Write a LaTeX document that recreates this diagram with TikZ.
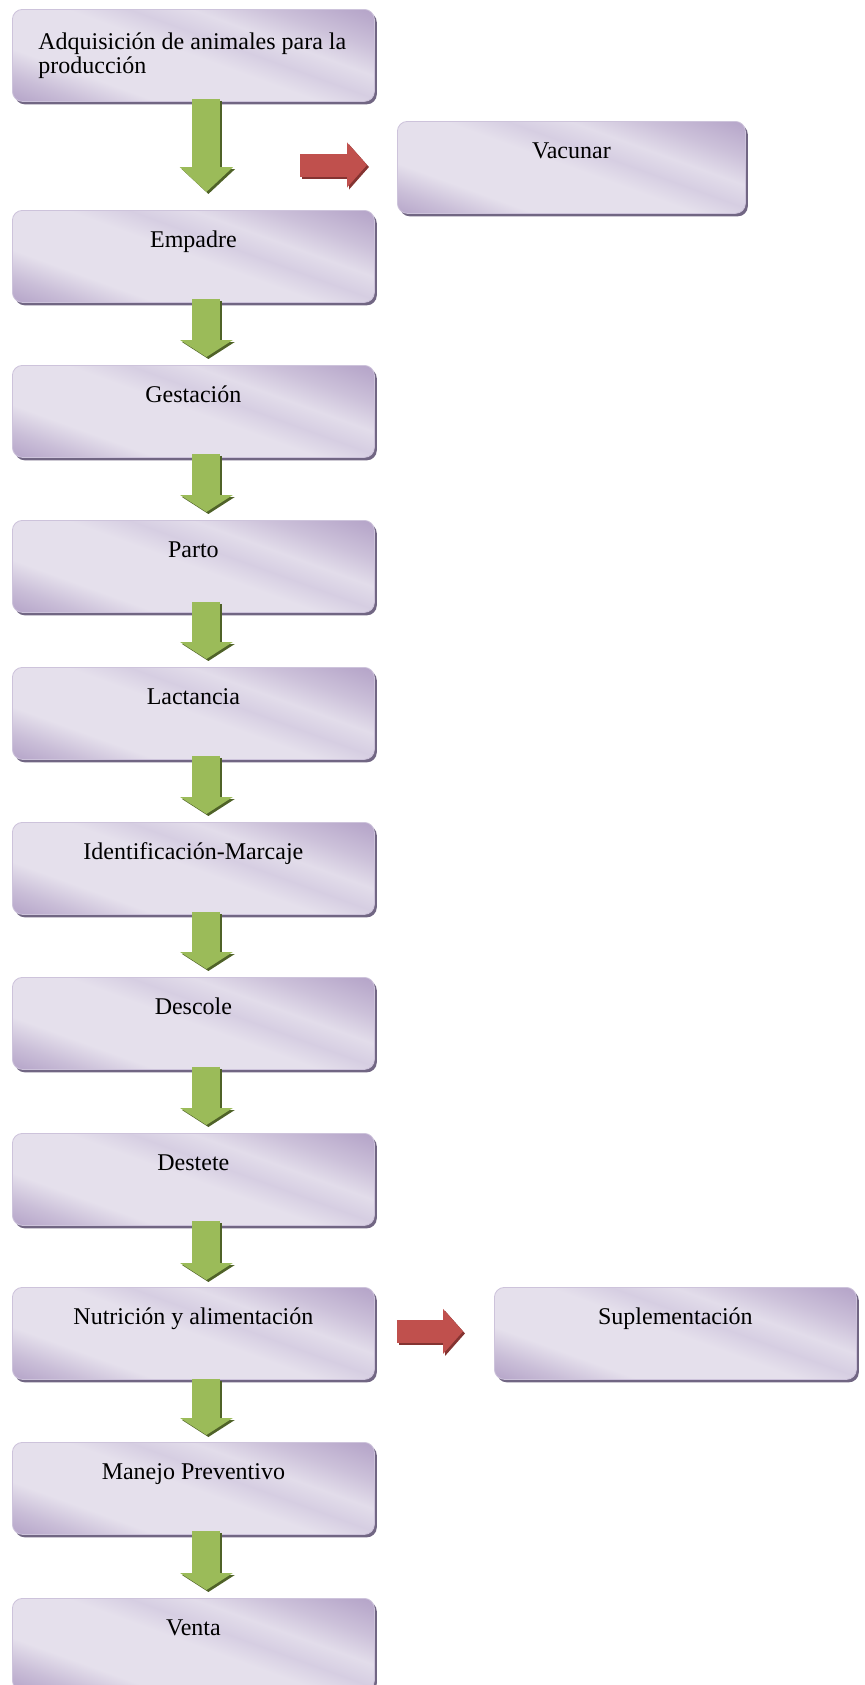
\documentclass[tikz,border=0pt]{standalone}
\usepackage{fontspec}
\setmainfont{Liberation Serif}
\usetikzlibrary{arrows.meta,shadows}

\definecolor{stagedark}{HTML}{B3A2C7}
\definecolor{stagemid}{HTML}{D6CEE2}
\definecolor{stagelight}{HTML}{E5E0EC}
\definecolor{stagerim}{HTML}{CDC3DB}
\definecolor{stageedge}{HTML}{716683}
\definecolor{stepgreen}{HTML}{9BBB59}
\definecolor{stepgreendark}{HTML}{4F6228}
\definecolor{branchred}{HTML}{C0504D}
\definecolor{branchreddark}{HTML}{843331}

\pgfdeclareverticalshading{stageshade}{100bp}{color(0bp)=(stagedark); color(25bp)=(stagedark);
  color(31bp)=(stagedark!55!stagelight); color(37bp)=(stagelight); color(50bp)=(stagelight);
  color(55bp)=(stagemid); color(60bp)=(stagelight!80!stagemid); color(66bp)=(stagedark!50!stagelight);
  color(72bp)=(stagedark!85!stagelight); color(75bp)=(stagedark); color(100bp)=(stagedark)}

\begin{document}
\begin{tikzpicture}
  [x=0.75pt,y=-0.75pt,
   stage/.style={rectangle,rounded corners=7.5pt,anchor=north west,inner sep=0pt,
     minimum width=271.5pt,minimum height=69pt,text height=27.75pt,text depth=41.25pt,
     draw=stagerim,line width=0.6pt,
     path picture={\shade[shading=stageshade,transform canvas={rotate around={-20:(path picture bounding box.center)}}]
       ([shift={(-160pt,-80pt)}]path picture bounding box.center) rectangle ([shift={(160pt,80pt)}]path picture bounding box.center);},
     general shadow={fill=stageedge,shadow xshift=1.8pt,shadow yshift=-2.2pt},
     font=\fontsize{18pt}{18pt}\selectfont}]
  \tikzstyle{garrow} = [line width=21pt,draw=stepgreen,-{Triangle[width=39pt,length=12.75pt]}]
  \tikzstyle{gshade} = [garrow,draw=stepgreendark,transform canvas={shift={(1.5pt,-1.5pt)}}]
  \tikzstyle{rarrow} = [line width=17.25pt,draw=branchred,-{Triangle[width=33pt,length=15pt]}]
  \tikzstyle{rshade} = [rarrow,draw=branchreddark,transform canvas={shift={(1.5pt,-1.5pt)}}]
  \useasboundingbox (0,0) rectangle (864,1685);

  \node[stage,text height=30pt,text depth=39pt] (b1) at (12,9)
    {\parbox[t]{252pt}{\raggedright\leftskip=9.75pt\relax Adquisición de animales para la\\producción}};
  \node[stage] (b2) at (12,210) {Empadre};
  \node[stage] (b3) at (12,365) {Gestación};
  \node[stage] (b4) at (12,520) {Parto};
  \node[stage] (b5) at (12,667) {Lactancia};
  \node[stage] (b6) at (12,822) {Identificación-Marcaje};
  \node[stage] (b7) at (12,977) {Descole};
  \node[stage] (b8) at (12,1133) {Destete};
  \node[stage] (b9) at (12,1287) {Nutrición y alimentación};
  \node[stage] (b10) at (12,1442) {Manejo Preventivo};
  \node[stage] (b11) at (12,1598) {Venta};
  \node[stage,minimum width=261pt] (vac) at (397,121) {Vacunar};
  \node[stage] (sup) at (494,1287) {Suplementación};

  % green steps down the column
  \draw[gshade,-{Triangle[width=39pt,length=18.75pt]}] ([xshift=9.75pt,yshift=2.25pt]b1.south) -- ([xshift=9.75pt,yshift=13.5pt]b2.north);
  \draw[garrow,-{Triangle[width=39pt,length=18.75pt]}] ([xshift=9.75pt,yshift=2.25pt]b1.south) -- ([xshift=9.75pt,yshift=13.5pt]b2.north);
\foreach \a/\b/\over/\gap in {b2/b3/3pt/6pt,b3/b4/3pt/6pt,b4/b5/8.25pt/6pt,b5/b6/3pt/6pt,b6/b7/2.25pt/6pt,
    b7/b8/2.25pt/6pt,b8/b9/3.75pt/5.25pt,b9/b10/0.75pt/5.25pt,b10/b11/3pt/6pt} {
   \draw[gshade] ([xshift=9.75pt,yshift=\over]\a.south) -- ([xshift=9.75pt,yshift=\gap]\b.north);
   \draw[garrow] ([xshift=9.75pt,yshift=\over]\a.south) -- ([xshift=9.75pt,yshift=\gap]\b.north);
}

  % red branches
  \coordinate (c1) at (300,165);
  \draw[rshade,shorten >=22.5pt] (c1) -- (c1 -| vac.west);
  \draw[rarrow,shorten >=22.5pt] (c1) -- (c1 -| vac.west);
  \draw[rshade,shorten <=16.5pt,shorten >=23.25pt] ([yshift=1.5pt]b9.east) -- ([yshift=1.5pt]sup.west);
  \draw[rarrow,shorten <=16.5pt,shorten >=23.25pt] ([yshift=1.5pt]b9.east) -- ([yshift=1.5pt]sup.west);
\end{tikzpicture}
\end{document}
